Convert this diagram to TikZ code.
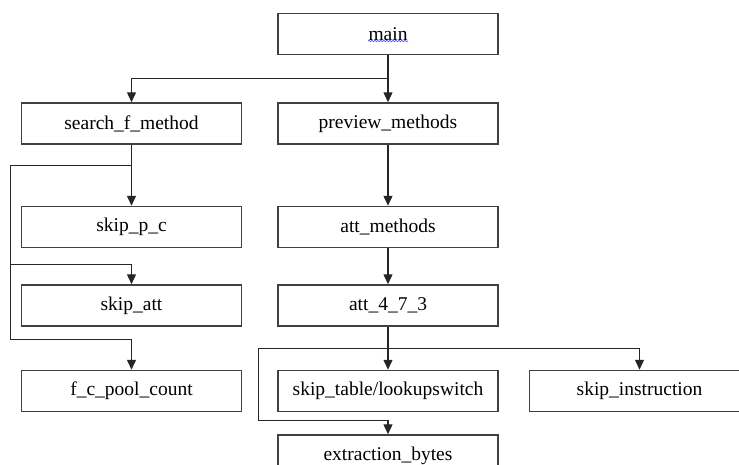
\documentclass[tikz,border=0pt]{standalone}
\usepackage{fontspec}
\setmainfont{Liberation Serif}
\usetikzlibrary{positioning,arrows.meta,decorations.pathmorphing}
\begin{document}
\begin{tikzpicture}[>={Triangle[length=10pt,width=9pt]},
  main node/.style={rectangle,draw=black!75,line width=1.5pt,minimum width=220pt,minimum height=41pt,inner sep=0pt,font=\rmfamily\fontsize{19.5}{22}\selectfont},
  link/.style={->,draw=black!85,line width=1.4pt}]
  \useasboundingbox (0,0) rectangle (739pt,-464pt);
  \node[main node] (1) at (388pt,-34pt) {main};
  \node[main node] (2) [below=47pt of 1] {preview\_methods};
  \node[main node] (3) [left=35pt of 2] {search\_f\_method};
  \node[main node] (4) [below=61pt of 2] {att\_methods};
  \node[main node] (5) [below=61pt of 3] {skip\_p\_c};
  \node[main node] (6) [below=36pt of 4] {att\_4\_7\_3};
  \node[main node] (7) [below=36pt of 5] {skip\_att};
  \node[main node] (8) [below=43pt of 6] {skip\_table/lookupswitch};
  \node[main node] (9) [below=43pt of 7] {f\_c\_pool\_count};
  \node[main node] (10) [right=30pt of 8] {skip\_instruction};
  \node[main node] (11) [below=22pt of 8] {extraction\_bytes};

  % junctions
  \coordinate (a) at ([yshift=-23pt]1.south);
  \coordinate (b) at ([yshift=-21pt]3.south);
  \coordinate (c) at ([yshift=-22pt]6.south);
  \coordinate (l) at ([xshift=-10pt]5.west);
  \coordinate (r) at ([xshift=-19pt]8.west);

  \draw[link] (1.south) -- (2.north);
  \draw[link] (a) -| (3.north);
  \draw[link] (3.south) -- (5.north);
  \draw[link] (b) -- (l |- b) |- ([yshift=20pt]7.north) -- (7.north);
  \draw[link] (b) -- (l |- b) |- ([yshift=30pt]9.north) -- (9.north);
  \draw[link] (2.south) -- (4.north);
  \draw[link] (4.south) -- (6.north);
  \draw[link] (6.south) -- (8.north);
  \draw[link] (c) -| (10.north);
  \draw[link] (c) -- (r |- c) |- ([yshift=14pt]11.north) -- (11.north);

  \draw[blue!70,line width=0.6pt,decorate,decoration={snake,amplitude=0.8pt,segment length=3pt}] ([xshift=-20pt,yshift=-7pt]1.center) -- ([xshift=20pt,yshift=-7pt]1.center);
\end{tikzpicture}
\end{document}
